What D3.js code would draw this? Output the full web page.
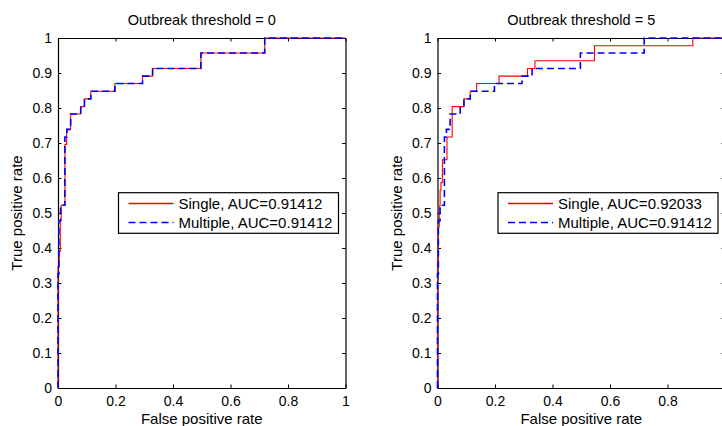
<!DOCTYPE html>
<html>
<head>
<meta charset="utf-8">
<script src="https://cdn.jsdelivr.net/npm/d3@7"></script>
<style>
    body { margin: 0; background: #fff; }
    svg { display: block; }
    text { font-family: "Liberation Sans", Arial, Helvetica, sans-serif; }
</style>
</head>
<body>
<div id="chart"></div>
<script>
// ROC curve corner points (step after each point)
var multipleFpr = [0, 0, 0.003, 0.009, 0.024, 0.031, 0.044, 0.079, 0.092, 0.114, 0.198, 0.294, 0.329, 0.497, 0.719, 1];
var multipleTpr = [0, 0.326, 0.478, 0.522, 0.717, 0.739, 0.783, 0.804, 0.826, 0.848, 0.870, 0.891, 0.913, 0.957, 1, 1];

var single0Fpr = [0, 0, 0.004, 0.008, 0.011, 0.024, 0.030, 0.044, 0.079, 0.092, 0.114, 0.198, 0.294, 0.329, 0.497, 0.719, 1];
var single0Tpr = [0, 0.348, 0.391, 0.478, 0.522, 0.696, 0.739, 0.783, 0.804, 0.826, 0.848, 0.870, 0.891, 0.913, 0.957, 1, 1];

var single5Fpr = [0, 0, 0.003, 0.006, 0.009, 0.012, 0.017, 0.033, 0.051, 0.092, 0.114, 0.136, 0.214, 0.313, 0.339, 0.546, 0.888, 1];
var single5Tpr = [0, 0.37, 0.46, 0.52, 0.565, 0.587, 0.652, 0.717, 0.804, 0.826, 0.848, 0.870, 0.891, 0.913, 0.935, 0.978, 1, 1];

var thresholds = [0, 5];
var singleAuc = ["0.91412", "0.92033"];
var multipleAuc = ["0.91412", "0.91412"];
var xTicks = [0, 0.2, 0.4, 0.6, 0.8, 1];
var yTicks = [0, 0.1, 0.2, 0.3, 0.4, 0.5, 0.6, 0.7, 0.8, 0.9, 1];

var width = 722;
var height = 426;

var svg = d3.select("#chart").append("svg")
    .attr("width", width)
    .attr("height", height)
    .style("overflow", "hidden");

function zip(xs, ys) {
    var pts = [];
    for (var i = 0; i < xs.length; i++) {
        pts.push([xs[i], ys[i]]);
    }
    return pts;
}

function fmt(d) {
    return d === 0 || d === 1 ? String(d) : d3.format(".1f")(d);
}

/**
*   drawPanel   one ROC panel
*   @param left     pixel x of the axes' left edge
*/
function drawPanel(left, title, singlePts, multiplePts, aucS, aucM)
{
    var top = 38, bottom = 388, w = 287.5;
    var x = d3.scaleLinear().domain([0, 1]).range([left, left + w]);
    var y = d3.scaleLinear().domain([0, 1]).range([bottom, top]);
    var g = svg.append("g");

    // box with inward ticks
    var axes = [
        { a: d3.axisBottom(x), t: "translate(0," + bottom + ")", lab: true },
        { a: d3.axisTop(x), t: "translate(0," + top + ")", lab: false },
        { a: d3.axisLeft(y), t: "translate(" + left + ",0)", lab: true },
        { a: d3.axisRight(y), t: "translate(" + (left + w) + ",0)", lab: false }
    ];
    axes.forEach(function(ax, i) {
        var vert = i > 1;
        ax.a.tickValues(vert ? yTicks : xTicks)
            .tickSizeInner(-3.5)
            .tickSizeOuter(0)
            .tickPadding(vert ? 6 : 8.5)
            .tickFormat(ax.lab ? fmt : "");
        var ag = g.append("g")
            .attr("transform", ax.t)
            .call(ax.a);
        ag.select(".domain").attr("stroke", "#000").attr("stroke-width", 1.2);
        ag.selectAll(".tick line").attr("stroke", "#000").attr("stroke-width", 1);
        ag.selectAll(".tick text")
            .attr("fill", "#000")
            .style("font-size", "14px");
        // labels that fall past the picture's right edge are not shown
        ag.selectAll(".tick text")
            .filter(function(d) { return !vert && x(d) > width - 6; })
            .remove();
    });

    var line = d3.line()
        .x(function(d) { return x(d[0]); })
        .y(function(d) { return y(d[1]); })
        .curve(d3.curveStepAfter);

    g.append("path")
        .datum(singlePts)
        .attr("d", line)
        .attr("fill", "none")
        .attr("stroke", "#ff0000")
        .attr("stroke-width", 1.1);

    g.append("path")
        .datum(multiplePts)
        .attr("d", line)
        .attr("fill", "none")
        .attr("stroke", "#0000ff")
        .attr("stroke-width", 1.6)
        .attr("stroke-dasharray", "7,4");

    g.append("text")
        .attr("x", left + w / 2)
        .attr("y", 25)
        .attr("text-anchor", "middle")
        .style("font-size", "14.5px")
        .text(title);

    g.append("text")
        .attr("x", left + w / 2)
        .attr("y", 423.5)
        .attr("text-anchor", "middle")
        .style("font-size", "15px")
        .text("False positive rate");

    g.append("text")
        .attr("transform", "translate(" + (left - 36) + "," + ((top + bottom) / 2) + ") rotate(-90)")
        .attr("text-anchor", "middle")
        .style("font-size", "15px")
        .text("True positive rate");

    // legend
    var lx = left + 60.5, ly = 192.7;
    g.append("rect")
        .attr("x", lx)
        .attr("y", ly)
        .attr("width", 220)
        .attr("height", 40.6)
        .attr("fill", "#fff")
        .attr("stroke", "#000")
        .attr("stroke-width", 1.2);

    var entries = [
        { label: "Single, AUC=" + aucS, color: "#ff0000", dash: "none", sw: 1.4, cy: 203.5 },
        { label: "Multiple, AUC=" + aucM, color: "#0000ff", dash: "7,4", sw: 1.6, cy: 222.5 }
    ];
    entries.forEach(function(e) {
        g.append("path")
            .attr("d", "M" + (lx + 10) + "," + e.cy + "H" + (lx + 55))
            .attr("fill", "none")
            .style("stroke", e.color)
            .style("stroke-width", e.sw)
            .style("stroke-dasharray", e.dash);
        g.append("text")
            .attr("x", lx + 60)
            .attr("y", e.cy + 5.3)
            .style("font-size", "15px")
            .text(e.label);
    });
}

drawPanel(58, "Outbreak threshold = " + thresholds[0],
    zip(single0Fpr, single0Tpr), zip(multipleFpr, multipleTpr), singleAuc[0], multipleAuc[0]);
drawPanel(437.5, "Outbreak threshold = " + thresholds[1],
    zip(single5Fpr, single5Tpr), zip(multipleFpr, multipleTpr), singleAuc[1], multipleAuc[1]);
</script>
</body>
</html>
